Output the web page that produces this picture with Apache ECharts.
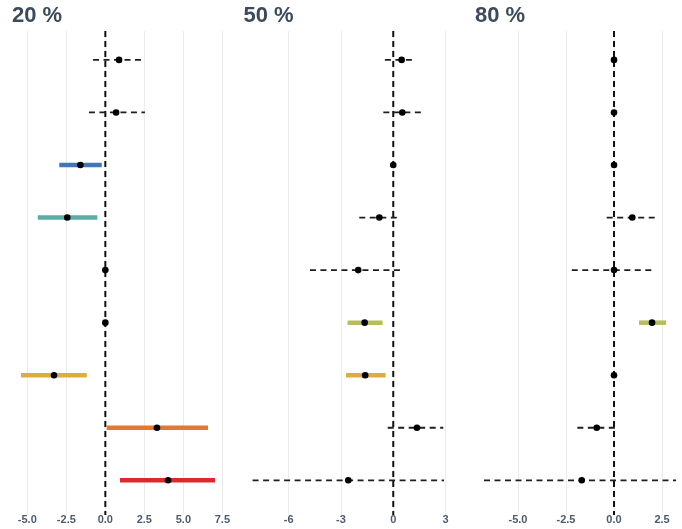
<!DOCTYPE html>
<html>
<head>
<meta charset="utf-8">
<script src="https://cdn.jsdelivr.net/npm/echarts@6/dist/echarts.min.js"></script>
<style>
  html, body { margin: 0; padding: 0; background: #fff; }
  #chart { width: 682px; height: 529px; }
</style>
</head>
<body>
<div id="chart"></div>
<script>
// Row numbers, top to bottom
const rows = [1, 2, 3, 4, 5, 6, 7, 8, 9];
// Colour of each row when its interval does not cross zero
const rowColors = ['#3f72b8', '#3f72b8', '#4274ba', '#5aaca5', '#9a9a9a', '#b6be55', '#dcae40', '#e8772e', '#da2a2b'];

const panelTitles = ['20 %', '50 %', '80 %'];

// 20 %
const est20 = [0.88, 0.69, -1.60, -2.44, 0.00, 0.00, -3.29, 3.31, 4.02];
const lo20  = [-0.79, -1.05, -2.95, -4.33, 0.00, 0.00, -5.40, 0.09, 0.94];
const hi20  = [2.54, 2.54, -0.23, -0.51, 0.00, 0.00, -1.19, 6.58, 7.03];

// 50 %
const est50 = [0.48, 0.52, 0.00, -0.80, -2.01, -1.64, -1.61, 1.36, -2.58];
const lo50  = [-0.48, -0.57, 0.00, -1.95, -4.78, -2.62, -2.71, -0.32, -8.07];
const hi50  = [1.29, 1.59, 0.00, 0.34, 0.54, -0.61, -0.44, 2.87, 2.91];

// 80 %
const est80 = [0.00, 0.00, 0.00, 0.95, 0.00, 1.98, 0.00, -0.90, -1.68];
const lo80  = [0.00, 0.00, 0.00, -0.38, -2.20, 1.30, 0.00, -1.91, -6.77];
const hi80  = [0.00, 0.00, 0.00, 2.22, 2.02, 2.71, 0.00, 0.14, 3.23];

// Tick labels per panel
const ticks20 = [-5, -2.5, 0, 2.5, 5, 7.5];
const ticks50 = [-6, -3, 0, 3];
const ticks80 = [-5, -2.5, 0, 2.5];

const panels = [
  { title: panelTitles[0], est: est20, lo: lo20, hi: hi20, ticks: ticks20, decimals: 1,
    min: -6.02, max: 7.65, left: 11.4, width: 213.3 },
  { title: panelTitles[1], est: est50, lo: lo50, hi: hi50, ticks: ticks50, decimals: 0,
    min: -8.62, max: 3.45, left: 243, width: 210.4 },
  { title: panelTitles[2], est: est80, lo: lo80, hi: hi80, ticks: ticks80, decimals: 1,
    min: -7.27, max: 3.54, left: 474.4, width: 207.6 }
];

const yMin = 0.45, yMax = 9.66;
const gridTop = 31, gridHeight = 484;

const chart = echarts.init(document.getElementById('chart'), null, { renderer: 'canvas' });

const grids = [], xAxes = [], yAxes = [], series = [], titles = [];

panels.forEach((p, i) => {
  titles.push({
    text: p.title,
    left: p.left + 0.5,
    top: 5,
    padding: 0,
    textStyle: { fontFamily: 'Liberation Sans, Arial, sans-serif', fontSize: 22, fontWeight: 'bold', color: '#3b4b5c' }
  });
  grids.push({ left: p.left, top: gridTop, width: p.width, height: gridHeight, containLabel: false });
  xAxes.push({
    type: 'value', gridIndex: i, min: p.min, max: p.max,
    axisLine: { show: false },
    axisTick: { show: false, customValues: p.ticks },
    axisLabel: {
      customValues: p.ticks,
      margin: -1,
      fontFamily: 'Liberation Sans, Arial, sans-serif',
      fontSize: 11, fontWeight: 'bold', color: '#4d5b6a',
      formatter: v => Number(v).toFixed(p.decimals)
    },
    splitLine: { show: true, lineStyle: { color: '#ececec', width: 1 } }
  });
  yAxes.push({
    type: 'value', gridIndex: i, min: yMin, max: yMax, inverse: true,
    show: false, splitLine: { show: false }
  });

  // vertical reference line at zero
  series.push({
    type: 'line', xAxisIndex: i, yAxisIndex: i,
    data: [[0, yMin], [0, yMax]],
    symbol: 'none', silent: true, z: 1,
    lineStyle: { color: '#111', width: 2, type: [6, 4] }
  });

  // interval + estimate for every row
  const data = rows.map((r, k) => [r, p.est[k], p.lo[k], p.hi[k]]);
  series.push({
    type: 'custom', xAxisIndex: i, yAxisIndex: i, z: 3,
    encode: { x: [1, 2, 3], y: 0 },
    data: data,
    renderItem: (params, api) => {
      const row = api.value(0), est = api.value(1), lo = api.value(2), hi = api.value(3);
      const a = api.coord([lo, row]);
      const b = api.coord([hi, row]);
      const c = api.coord([est, row]);
      const significant = lo > 0 || hi < 0;
      const children = [];
      if (hi > lo) {
        children.push({
          type: 'line',
          shape: { x1: a[0], y1: a[1], x2: b[0], y2: b[1] },
          style: significant
            ? { stroke: rowColors[row - 1], lineWidth: 4.5 }
            : { stroke: '#1e1e1e', lineWidth: 1.8, lineDash: [6, 4.5] }
        });
      }
      children.push({
        type: 'circle',
        shape: { cx: c[0], cy: c[1], r: 3.3 },
        style: { fill: '#000' }
      });
      return { type: 'group', children: children };
    }
  });
});

chart.setOption({
  backgroundColor: '#ffffff',
  animation: false,
  title: titles,
  grid: grids,
  xAxis: xAxes,
  yAxis: yAxes,
  series: series
});
</script>
</body>
</html>
